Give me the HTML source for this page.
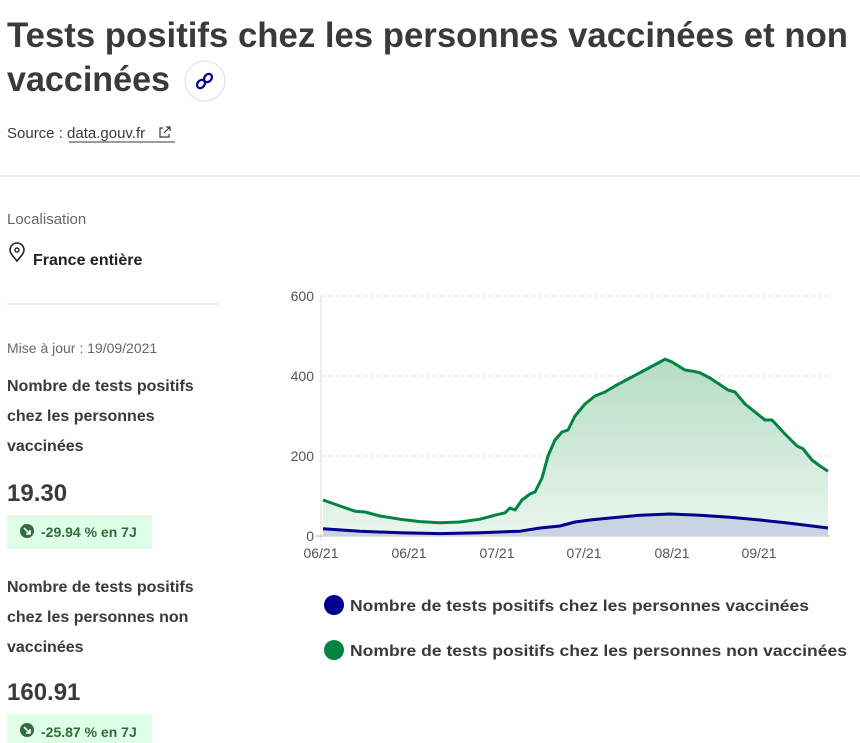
<!DOCTYPE html>
<html><head><meta charset="utf-8"><style>
html,body{margin:0;padding:0;background:#fff;width:860px;height:743px;overflow:hidden}
svg{display:block}
text{font-family:"Liberation Sans",sans-serif}
</style></head><body>
<svg width="860" height="743" viewBox="0 0 860 743" xmlns="http://www.w3.org/2000/svg">
<defs>
<linearGradient id="gg" x1="0" y1="0" x2="0" y2="1">
<stop offset="0" stop-color="#b7dcc4"/><stop offset="1" stop-color="#eaf5ee"/></linearGradient>
</defs>
<text x="7" y="47" font-size="35" font-weight="bold" fill="#3a3a3a" textLength="841" lengthAdjust="spacingAndGlyphs">Tests positifs chez les personnes vaccinées et non</text>
<text x="7" y="91" font-size="35" font-weight="bold" fill="#3a3a3a" textLength="163" lengthAdjust="spacingAndGlyphs">vaccinées</text>
<circle cx="205" cy="81" r="20" fill="#fff" stroke="#ddd"/>
<g stroke="#000091" stroke-width="2.2" fill="none"><ellipse cx="201" cy="84" rx="3.5" ry="4.5" transform="rotate(40 201 84)"/><ellipse cx="208" cy="78" rx="3.5" ry="4.5" transform="rotate(40 208 78)"/></g>
<text x="7" y="138" font-size="15" fill="#3a3a3a">Source : <tspan>data.gouv.fr</tspan></text>
<line x1="69" y1="142" x2="175" y2="142" stroke="#3a3a3a"/>
<g stroke="#3a3a3a" stroke-width="1.2" fill="none"><path d="M163 128h-3v9h9v-3M166 127h4v4M170 127l-6 6"/></g>
<line x1="0" y1="176" x2="860" y2="176" stroke="#ddd"/>
<text x="7" y="224" font-size="15" fill="#666">Localisation</text>
<path d="M17 261c-5-6-7-8-7-11a7 7 0 0 1 14 0c0 3-2 5-7 11z" fill="none" stroke="#222" stroke-width="1.6"/>
<circle cx="17" cy="250" r="2" fill="none" stroke="#222" stroke-width="1.4"/>
<text x="33" y="265" font-size="16" font-weight="bold" fill="#222">France entière</text>
<line x1="7" y1="304" x2="218" y2="304" stroke="#ddd"/>
<text x="7" y="353" font-size="14" fill="#666">Mise à jour : 19/09/2021</text>
<g font-size="16" font-weight="bold" fill="#3a3a3a">
<text x="7" y="391">Nombre de tests positifs</text>
<text x="7" y="421">chez les personnes</text>
<text x="7" y="451">vaccinées</text>
<text x="7" y="592">Nombre de tests positifs</text>
<text x="7" y="622">chez les personnes non</text>
<text x="7" y="652">vaccinées</text>
</g>
<text x="7" y="501" font-size="24" font-weight="bold" fill="#3a3a3a">19.30</text>
<text x="7" y="700" font-size="24" font-weight="bold" fill="#3a3a3a">160.91</text>
<rect x="7" y="515" width="145" height="34" fill="#dffee6"/>
<circle cx="27" cy="531" r="7" fill="#2f6b3d"/><path d="M24 528l6 6M30 530v4h-4" stroke="#fff" stroke-width="1.6" fill="none"/>
<text x="41" y="537" font-size="14" font-weight="bold" fill="#2f6b3d">-29.94 % en 7J</text>
<rect x="7" y="714" width="145" height="34" fill="#dffee6"/>
<circle cx="27" cy="730" r="7" fill="#2f6b3d"/><path d="M24 727l6 6M30 729v4h-4" stroke="#fff" stroke-width="1.6" fill="none"/>
<text x="41" y="737" font-size="14" font-weight="bold" fill="#2f6b3d">-25.87 % en 7J</text>

<!-- chart -->
<g stroke="#ddd" stroke-dasharray="4,3"><line x1="321" y1="296" x2="830" y2="296"/><line x1="321" y1="376" x2="830" y2="376"/><line x1="321" y1="456" x2="830" y2="456"/></g>
<line x1="321" y1="296" x2="321" y2="541" stroke="#ddd"/>
<line x1="316" y1="536" x2="830" y2="536" stroke="#bbb"/>
<g font-size="14" fill="#555" text-anchor="end"><text x="314" y="301">600</text><text x="314" y="381">400</text><text x="314" y="461">200</text><text x="314" y="541">0</text></g>
<g font-size="14" fill="#555" text-anchor="middle"><text x="321" y="558">06/21</text><text x="409" y="558">06/21</text><text x="497" y="558">07/21</text><text x="584" y="558">07/21</text><text x="672" y="558">08/21</text><text x="759" y="558">09/21</text></g>
<path d="M323 500 L340 506 L355 511.2 L365 512 L380 516 L400 519.2 L420 521.6 L440 522.8 L460 522 L480 519.2 L495 515.2 L505 512.8 L510 508 L515 510 L522 500 L530 494 L535 492 L542 478 L548 456 L555 440 L562 432 L568 430 L575 416 L585 404 L595 396 L605 392 L615 386 L630 378 L645 370 L660 362 L665 359.2 L672 362 L685 370 L693 371.2 L700 372.8 L710 378 L722 386 L728 390 L735 392 L745 404 L755 412 L765 420 L772 420 L785 434 L797 446 L803 448.8 L812 460 L820 466 L828 471.2 L828 536 L323 536Z" fill="url(#gg)"/>
<path d="M323 528.8 L360 531.2 L400 532.8 L440 533.6 L480 532.8 L520 531.2 L540 528 L560 526 L575 522 L590 520 L610 518 L640 515.2 L670 514 L700 515.2 L730 517.2 L760 520 L790 523.2 L828 528 L828 536 L323 536Z" fill="#c9d3e2"/>
<path d="M323 500 L340 506 L355 511.2 L365 512 L380 516 L400 519.2 L420 521.6 L440 522.8 L460 522 L480 519.2 L495 515.2 L505 512.8 L510 508 L515 510 L522 500 L530 494 L535 492 L542 478 L548 456 L555 440 L562 432 L568 430 L575 416 L585 404 L595 396 L605 392 L615 386 L630 378 L645 370 L660 362 L665 359.2 L672 362 L685 370 L693 371.2 L700 372.8 L710 378 L722 386 L728 390 L735 392 L745 404 L755 412 L765 420 L772 420 L785 434 L797 446 L803 448.8 L812 460 L820 466 L828 471.2" fill="none" stroke="#00843f" stroke-width="3" stroke-linejoin="round"/>
<path d="M323 528.8 L360 531.2 L400 532.8 L440 533.6 L480 532.8 L520 531.2 L540 528 L560 526 L575 522 L590 520 L610 518 L640 515.2 L670 514 L700 515.2 L730 517.2 L760 520 L790 523.2 L828 528" fill="none" stroke="#000091" stroke-width="3" stroke-linejoin="round"/>
<circle cx="334" cy="605" r="10" fill="#000091"/>
<text x="350" y="611" font-size="16" font-weight="bold" fill="#3a3a3a" textLength="459" lengthAdjust="spacingAndGlyphs">Nombre de tests positifs chez les personnes vaccinées</text>
<circle cx="334" cy="650" r="10" fill="#00843f"/>
<text x="350" y="656" font-size="16" font-weight="bold" fill="#3a3a3a" textLength="497" lengthAdjust="spacingAndGlyphs">Nombre de tests positifs chez les personnes non vaccinées</text>
</svg>
</body></html>
